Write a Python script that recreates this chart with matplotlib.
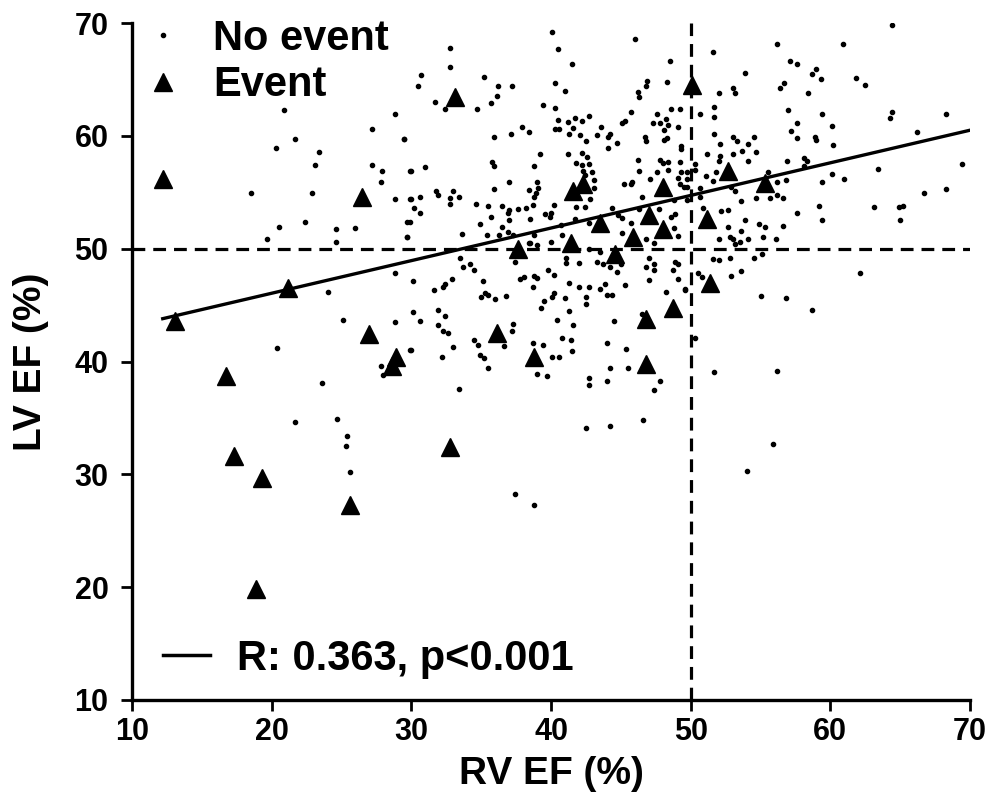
import matplotlib
matplotlib.use("Agg")
import matplotlib.pyplot as plt
from matplotlib.lines import Line2D

plt.rcParams['font.family'] = ['Liberation Sans', 'DejaVu Sans']
plt.rcParams['font.weight'] = 'bold'

# ---- data (RV EF %, LV EF %) ----
event_points = [
    (12.2, 56.2), (13.1, 43.6), (16.7, 38.7), (17.3, 31.6), (19.3, 29.7), (18.9, 19.8),
    (21.2, 46.5), (25.6, 27.3), (26.5, 54.6), (27.0, 42.4), (28.9, 40.4), (28.6, 39.6),
    (32.8, 32.4), (33.1, 63.4), (36.1, 42.5), (37.6, 50.0), (38.8, 40.4), (41.6, 55.1),
    (42.3, 55.7), (41.4, 50.5), (43.5, 52.3), (44.6, 49.5), (45.9, 51.0), (47.0, 53.0),
    (48.0, 55.5), (48.0, 51.7), (46.8, 43.8), (46.8, 39.8), (48.7, 44.7), (50.1, 64.5),
    (51.2, 52.6), (51.4, 47.0), (52.7, 56.9), (55.3, 55.8),
]

no_event_points = [
    # left upper
    (20.9, 62.3), (28.8, 61.9), (27.2, 60.6), (21.7, 59.7), (29.5, 59.7), (20.3, 58.9),
    (23.4, 58.6), (23.1, 57.4), (27.2, 57.4), (27.9, 56.9), (27.8, 55.9), (29.9, 56.9),
    (18.5, 54.9), (22.9, 54.9), (28.8, 54.4), (29.9, 54.4), (20.5, 51.9), (22.4, 52.4),
    (24.6, 51.7), (26.0, 51.8), (24.6, 50.6), (19.7, 50.9), (29.7, 52.4), (29.7, 51.0),
    # centre upper
    (40.1, 69.2), (46.0, 68.6), (32.8, 67.8), (40.5, 67.7), (32.8, 66.1), (41.5, 66.4),
    (48.5, 66.6), (30.7, 65.4), (35.2, 65.2), (30.5, 64.4), (36.2, 64.4), (37.2, 64.4),
    (40.3, 64.7), (46.9, 64.9), (46.8, 64.4), (48.3, 64.8), (41.0, 64.0), (46.2, 63.9),
    (46.3, 63.4), (31.7, 63.0), (36.1, 63.5), (35.7, 62.9), (32.4, 62.4), (34.7, 62.4),
    (39.4, 62.7), (40.3, 62.5), (45.7, 62.1), (48.6, 62.4), (49.2, 62.4), (40.5, 61.4),
    (41.2, 61.2), (41.7, 61.6), (42.2, 61.3), (42.7, 61.8), (45.1, 61.1), (45.3, 61.3),
    (47.6, 61.9), (47.3, 61.1), (47.8, 61.1), (48.2, 61.5), (48.4, 61.0), (49.1, 60.8),
    (40.3, 60.6), (40.6, 60.6), (41.6, 60.7), (37.9, 60.8), (37.1, 60.2), (38.4, 60.3),
    (35.9, 59.9), (29.5, 59.7), (41.3, 60.2), (42.1, 60.1), (43.6, 60.8), (43.3, 60.1),
    (44.2, 60.2), (44.1, 59.9), (42.5, 59.5), (44.1, 58.9), (44.7, 59.4), (46.7, 59.9),
    (46.8, 59.5), (48.1, 60.5), (48.1, 59.6), (48.3, 59.8), (49.3, 59.1), (49.3, 58.8),
    (39.2, 58.4), (41.2, 58.4), (42.2, 58.5), (42.6, 58.1), (41.8, 57.6), (42.2, 57.4),
    (42.7, 57.5), (42.3, 56.9), (42.9, 56.8), (46.2, 57.9), (46.3, 56.9), (47.8, 57.9),
    (48.0, 57.6), (48.4, 57.7), (48.4, 57.0), (47.6, 56.8), (49.3, 56.8), (30.0, 56.9),
    (31.0, 57.2), (35.8, 57.7), (35.9, 57.3), (38.8, 57.3), (39.0, 55.9), (37.0, 55.9),
    (43.1, 56.1), (42.4, 56.5), (43.1, 55.4), (42.8, 54.4), (45.8, 55.9), (45.7, 55.7),
    (45.2, 55.7), (47.1, 56.2), (49.1, 56.3), (49.7, 56.2), (49.2, 55.7), (49.7, 55.5),
    (35.9, 55.3), (38.4, 55.2), (39.1, 55.4), (38.9, 54.9), (38.8, 54.6), (31.8, 55.1),
    (31.9, 54.8), (33.0, 55.1), (33.4, 54.6), (32.8, 54.5), (32.8, 54.0), (30.0, 54.4),
    (30.6, 54.6), (30.2, 53.6), (30.6, 53.2), (29.9, 52.4), (29.7, 51.0), (34.6, 54.0),
    (35.5, 53.8), (34.9, 52.2), (35.7, 52.8), (36.5, 53.8), (37.0, 53.4), (36.9, 53.2),
    (37.6, 53.5), (38.2, 53.6), (38.7, 53.9), (38.5, 52.6), (37.0, 52.5), (36.5, 51.9),
    (36.3, 51.2), (36.9, 51.5), (37.3, 51.2), (33.6, 51.3), (35.4, 51.2), (39.6, 53.1),
    (40.2, 53.9), (40.0, 53.2), (39.9, 52.8), (41.8, 53.7), (42.4, 53.7), (41.7, 52.6),
    (42.7, 52.3), (40.7, 52.1), (40.8, 51.2), (44.4, 53.6), (44.8, 53.0), (45.1, 52.7),
    (45.7, 52.3), (45.1, 51.4), (46.5, 54.6), (46.3, 53.5), (47.7, 53.5), (48.6, 52.8),
    (48.9, 53.1), (48.8, 54.3), (49.7, 54.3), (48.8, 51.8), (49.1, 51.1), (47.4, 50.5),
    (46.8, 50.9), (40.0, 50.6), (38.4, 50.5), (38.8, 51.2), (39.0, 50.3),
    # right upper
    (64.4, 69.8), (56.2, 68.1), (60.9, 68.1), (51.6, 67.4), (53.9, 65.6), (57.1, 66.6),
    (57.6, 66.4), (59.0, 65.9), (58.7, 65.5), (59.3, 65.0), (61.8, 65.1), (62.5, 64.5),
    (56.7, 64.7), (56.4, 64.2), (58.4, 63.8), (52.0, 63.8), (53.0, 64.2), (53.2, 63.8),
    (51.7, 62.6), (51.7, 61.7), (50.7, 61.9), (57.0, 62.3), (59.4, 61.9), (64.4, 62.1),
    (64.3, 61.6), (68.3, 61.9), (57.6, 61.1), (57.2, 60.4), (60.1, 60.9), (57.6, 59.8),
    (58.9, 59.9), (59.0, 59.6), (60.2, 59.2), (66.2, 60.3), (51.7, 60.2), (52.1, 59.3),
    (53.0, 59.9), (53.3, 59.5), (54.1, 59.3), (54.5, 59.9), (53.7, 58.7), (54.7, 58.6),
    (53.0, 58.4), (51.2, 58.4), (52.0, 57.8), (52.1, 58.2), (54.1, 57.8), (56.9, 57.8),
    (58.1, 58.0), (58.3, 57.8), (69.4, 57.5), (50.3, 57.5), (50.3, 57.0), (49.7, 56.8),
    (49.2, 57.7), (51.1, 56.4), (51.6, 56.0), (51.8, 56.8), (50.7, 55.4), (49.5, 55.5),
    (52.9, 55.5), (53.2, 55.1), (53.6, 54.2), (54.7, 54.5), (55.7, 54.5), (56.2, 54.8),
    (56.6, 54.5), (56.2, 55.9), (56.8, 56.1), (55.5, 56.8), (58.1, 57.3), (60.1, 56.6),
    (61.0, 56.2), (59.4, 55.9), (63.4, 57.1), (63.1, 53.7), (59.2, 53.8), (57.6, 53.2),
    (59.4, 52.5), (64.9, 53.7), (65.2, 53.8), (65.0, 52.5), (66.7, 54.9), (68.3, 55.3),
    (50.9, 53.6), (52.2, 53.3), (52.7, 53.4), (50.7, 54.6), (52.7, 51.9), (53.9, 52.5),
    (53.6, 51.6), (54.9, 52.2), (55.3, 51.9), (56.6, 52.0), (52.0, 50.9), (52.8, 51.0),
    (53.0, 50.9), (53.2, 50.4), (53.5, 50.6), (54.1, 50.9), (55.2, 51.0), (56.1, 50.9),
    # right lower
    (51.6, 49.1), (52.0, 49.0), (52.8, 49.2), (54.5, 49.2), (55.1, 49.5), (52.9, 47.6),
    (53.6, 48.0), (50.5, 47.8), (50.8, 47.5), (49.6, 46.4), (62.1, 47.8), (55.0, 45.8),
    (56.8, 45.6), (58.7, 44.6), (50.3, 42.1), (51.7, 39.1), (56.2, 39.2), (55.9, 32.7),
    (54.0, 30.3),
    # left lower
    (28.8, 47.8), (24.0, 46.2), (25.1, 43.7), (28.8, 43.5), (20.4, 41.2), (29.9, 41.0),
    (23.6, 38.1), (27.8, 39.6), (28.0, 38.8), (21.7, 34.6), (24.7, 34.9), (25.4, 33.4),
    (25.3, 32.5), (25.6, 30.2),
    # centre lower
    (33.5, 49.2), (33.7, 48.4), (34.2, 48.6), (34.5, 48.1), (37.4, 48.8), (38.5, 50.5),
    (41.1, 49.2), (41.1, 48.7), (42.0, 48.7), (42.7, 50.0), (43.5, 49.7), (43.3, 48.8),
    (43.7, 48.6), (44.2, 48.4), (44.7, 47.9), (45.0, 48.6), (47.0, 49.2), (46.8, 48.4),
    (47.4, 48.1), (47.4, 48.6), (48.7, 48.1), (48.9, 48.8), (49.1, 48.6), (49.1, 47.3),
    (47.0, 47.2), (48.2, 46.2), (49.6, 46.3), (30.1, 47.1), (31.6, 46.3), (32.3, 46.6),
    (32.4, 46.9), (32.9, 47.3), (35.1, 47.1), (35.0, 45.7), (35.3, 46.1), (35.5, 45.9),
    (36.0, 45.5), (36.8, 45.8), (37.8, 47.3), (38.1, 47.5), (38.7, 46.6), (38.8, 47.6),
    (39.0, 47.4), (39.8, 48.1), (40.2, 47.7), (41.3, 47.0), (42.0, 46.6), (42.7, 46.6),
    (43.5, 46.4), (43.9, 46.9), (45.3, 46.8), (40.2, 46.1), (40.1, 45.7), (39.5, 45.4),
    (39.3, 44.7), (41.0, 45.6), (41.3, 44.5), (42.5, 45.7), (42.5, 45.1), (44.0, 45.9),
    (44.4, 45.9), (30.1, 44.4), (30.6, 43.6), (31.9, 44.6), (32.4, 44.0), (31.9, 43.2),
    (32.3, 42.7), (32.6, 42.5), (37.3, 43.3), (37.2, 42.7), (40.4, 43.7), (41.6, 43.2),
    (40.8, 42.1), (41.4, 41.9), (41.5, 40.9), (44.5, 43.6), (46.5, 44.2), (44.0, 41.6),
    (45.4, 41.1), (30.0, 41.0), (32.2, 40.4), (33.0, 41.3), (34.5, 41.9), (34.8, 41.5),
    (34.9, 40.6), (35.2, 40.3), (35.5, 39.4), (36.6, 41.4), (38.7, 41.6), (39.4, 41.5),
    (40.1, 40.4), (40.6, 40.4), (39.0, 38.9), (39.7, 38.7), (42.7, 38.5), (42.7, 37.9),
    (44.0, 38.3), (44.2, 39.4), (45.5, 39.4), (47.8, 38.3), (47.4, 37.5), (33.4, 37.6),
    (42.5, 34.1), (44.2, 34.3), (46.6, 34.8), (37.4, 28.3), (38.8, 27.3),
]

fit_slope = 0.289
fit_intercept = 40.27
fit_x_range = [12.2, 70.0]
cutoff_rv = 50
cutoff_lv = 50
x_ticks = [10, 20, 30, 40, 50, 60, 70]
y_ticks = [10, 20, 30, 40, 50, 60, 70]
legend_labels = ["No event", "Event"]
stat_label = "R: 0.363, p<0.001"

ne_rv = [p[0] for p in no_event_points]
ne_lv = [p[1] for p in no_event_points]
ev_rv = [p[0] for p in event_points]
ev_lv = [p[1] for p in event_points]

fig = plt.figure(figsize=(9.94, 8.02), dpi=100)
ax = fig.add_axes([0.1328, 0.1272, 0.8431, 0.8441])

ax.axvline(cutoff_rv, color='black', lw=2.3, dashes=(4, 2.5), zorder=1)
ax.axhline(cutoff_lv, color='black', lw=2.3, dashes=(4, 2.5), zorder=1)

ax.plot(ne_rv, ne_lv, linestyle='none', marker='o', ms=3.0, color='black', zorder=2)
ax.plot(ev_rv, ev_lv, linestyle='none', marker='^', ms=13, color='black', zorder=4)

fx = fit_x_range
fy = [fit_intercept + fit_slope * v for v in fx]
ax.plot(fx, fy, color='black', lw=2.4, zorder=3)

ax.set_xlim(10, 70)
ax.set_ylim(10, 70)
ax.set_xticks(x_ticks)
ax.set_yticks(y_ticks)
ax.spines['top'].set_visible(False)
ax.spines['right'].set_visible(False)
for s in ['left', 'bottom']:
    ax.spines[s].set_linewidth(2.4)
ax.tick_params(direction='out', length=8, width=2.0, labelsize=22)
ax.tick_params(axis='y', pad=9)
ax.tick_params(axis='x', pad=4)
for lab in ax.get_xticklabels() + ax.get_yticklabels():
    lab.set_fontweight('bold')

ax.set_xlabel("RV EF (%)", fontsize=28, fontweight='bold', labelpad=7)
ax.set_ylabel("LV EF (%)", fontsize=28, fontweight='bold', labelpad=18)

handles = [
    Line2D([], [], linestyle='none', marker='o', ms=3.0, color='black'),
    Line2D([], [], linestyle='none', marker='^', ms=13, color='black'),
]
leg1 = ax.legend(handles, legend_labels, loc='upper left',
                 bbox_to_anchor=(0.0119, 1.006), frameon=False,
                 borderpad=0, borderaxespad=0,
                 prop={'size': 30, 'weight': 'bold'}, handletextpad=0.7,
                 labelspacing=0.15, handlelength=1.0)
ax.add_artist(leg1)
leg2 = ax.legend([Line2D([], [], color='black', lw=2.5)], [stat_label],
                 loc='lower left', bbox_to_anchor=(0.037, 0.031), frameon=False,
                 borderpad=0, borderaxespad=0,
                 prop={'size': 30, 'weight': 'bold'}, handletextpad=0.65,
                 handlelength=1.13)

fig.savefig("out.png", dpi=100)
